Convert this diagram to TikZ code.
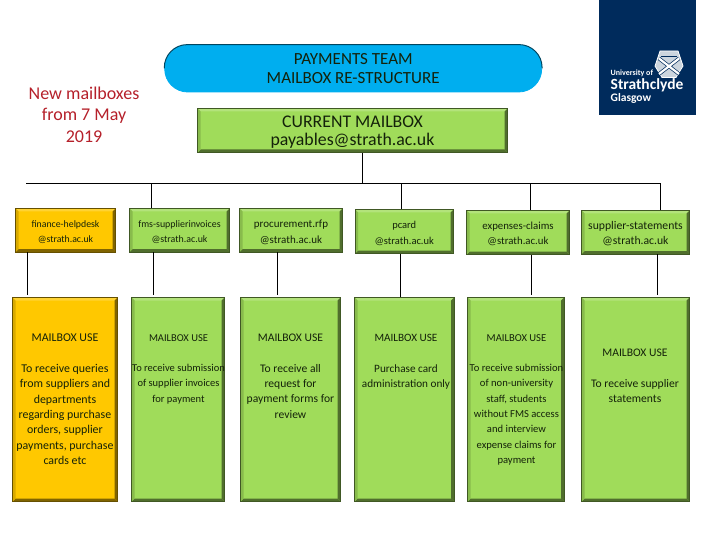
\documentclass[tikz,border=0pt]{standalone}
\usepackage{fontspec}
\setmainfont{Carlito}
\usetikzlibrary{calc}
\definecolor{boxgreen}{HTML}{A0DC5A}
\definecolor{boxamber}{HTML}{FFC800}
\definecolor{pillblue}{HTML}{00AEEF}
\definecolor{navy}{HTML}{002B5C}
\definecolor{redtxt}{HTML}{B5202A}
\definecolor{inktxt}{HTML}{14220A}
\tikzset{
  bevel/.style={draw=#1!40!black, line width=.8pt, inner sep=0pt, fill=#1,
    path picture={
      \coordinate (bl) at (path picture bounding box.south west);
      \coordinate (tr) at (path picture bounding box.north east);
      \coordinate (tl) at (path picture bounding box.north west);
      \coordinate (br) at (path picture bounding box.south east);
      \fill[#1!80!white] (tl) -- (tr) -- ($(tr)+(-3,3)$) -- ($(tl)+(3,3)$) -- cycle;
      \fill[#1!50!black] (tr) -- (br) -- ($(br)+(-3,-3)$) -- ($(tr)+(-3,3)$) -- cycle;
      \fill[#1!50!black] (bl) -- (br) -- ($(br)+(-3,-3)$) -- ($(bl)+(3,-3)$) -- cycle;
      \fill[#1!85!black] (tl) -- (bl) -- ($(bl)+(3,-3)$) -- ($(tl)+(3,3)$) -- cycle;
    }},
  fs/.style={font=\fontsize{#1}{15.3}\selectfont},
  small/.style={align=center, text=inktxt, inner sep=0pt},
  big/.style={font=\fontsize{#1}{18.5}\selectfont, align=center, text=inktxt},
  link/.style={draw=black, line width=.8pt},
  lbl/.style={small, anchor=north},
}
\newcommand{\gbox}[6]{% name, x0, y0, x1, y1, colour
  \node[bevel=#6, minimum width=#4pt-#2pt, minimum height=#5pt-#3pt] (#1) at ({(#2+#4)/2},{(#3+#5)/2}) {};}
\begin{document}
\begin{tikzpicture}[x=1pt,y=-1pt]
\useasboundingbox (0,0) rectangle (720,540);
% logo
\fill[navy] (599,0) rectangle (696,115.5);
\begin{scope}[shift={(669,67)}]
  \fill[white!80!navy, draw=white, line width=.8pt] (-9,-16) -- (9,-16) -- (14,-1) -- (7,10.5) -- (-7,10.5) -- (-14,-1) -- cycle;
  \draw[navy, line width=3.6pt] (-10,-8.5) -- (10,7) (10,-8.5) -- (-10,7);
  \draw[white, line width=2.2pt] (-10,-8.5) -- (10,7) (10,-8.5) -- (-10,7);
  \draw[navy, line width=.7pt] (-8,-10.5) -- (8,-10.5);
\end{scope}
\node[anchor=west, inner sep=0pt, text=white, font=\bfseries\fontsize{8}{9}\selectfont] (uni) at (610.5,73) {University of};
\node[anchor=west, inner sep=0pt, text=white, font=\bfseries\fontsize{15.5}{18}\selectfont] (strath) at (610.5,85.5) {Strathclyde};
\node[anchor=west, inner sep=0pt, text=white, font=\bfseries\fontsize{11.5}{12}\selectfont] (glas) at (610.5,98) {Glasgow};
% note
\node[font=\fontsize{18}{21.5}\selectfont, text=redtxt, align=center, inner sep=0pt] (note) at (84,114.5) {New mailboxes\\from 7 May\\2019};
% title
\node[draw=pillblue, line width=.8pt, fill=pillblue, rounded corners=23pt, minimum width=377pt, minimum height=47pt, inner sep=0pt, big=17] (title) at (353.2,68.5) {PAYMENTS TEAM\\MAILBOX RE-STRUCTURE};
\draw[pillblue!40!black, line width=1pt, rounded corners=23pt] (title.west) |- (title.north) -| (title.east);
% current
\gbox{current}{197.5}{108.5}{507.5}{152.5}{boxgreen}
\node[big=17.8, inner sep=0pt] (currenttxt) at ($(current.center)+(0,1.5)$) {CURRENT MAILBOX\\payables@strath.ac.uk};
% small boxes
\gbox{s1}{15.5}{208.5}{115.5}{252}{boxamber}
\gbox{s2}{129.5}{208.5}{229.5}{252}{boxgreen}
\gbox{s3}{239.5}{208.5}{342.5}{252}{boxgreen}
\gbox{s4}{355}{209.5}{453.5}{253.5}{boxgreen}
\gbox{s5}{466.5}{210.5}{569.5}{254.5}{boxgreen}
\gbox{s6}{581.5}{210.5}{689.5}{254}{boxgreen}
\node[small, fs=9.8] (s1t) at ($(s1.center)+(0,2)$) {finance-helpdesk\\@strath.ac.uk};
\node[small, fs=9.9] (s2t) at ($(s2.center)+(0,2)$) {fms-supplierinvoices\\@strath.ac.uk};
\node[small, fs=11] (s3t) at ($(s3.center)+(0,2)$) {procurement.rfp\\@strath.ac.uk};
\node[small, fs=10.5] (s4t) at ($(s4.center)+(0,2)$) {pcard\\@strath.ac.uk};
\node[small, fs=10.8] (s5t) at ($(s5.center)+(0,1.5)$) {expenses-claims\\@strath.ac.uk};
\node[small, fs=11.7] (s6t) at ($(s6.center)+(0,1.5)$) {supplier-statements\\@strath.ac.uk};
% tall boxes
\gbox{t1}{12.5}{297.5}{117.5}{501.5}{boxamber}
\gbox{t2}{131.5}{297.5}{224.5}{501.5}{boxgreen}
\gbox{t3}{240.5}{297.5}{340.5}{501.5}{boxgreen}
\gbox{t4}{354.5}{297.5}{454}{501.5}{boxgreen}
\gbox{t5}{467.5}{297.5}{564}{501.5}{boxgreen}
\gbox{t6}{581.5}{297.5}{689.5}{501.5}{boxgreen}
\node[lbl, fs=11.9] (t1t) at (65,334) {MAILBOX USE\\[15.3pt]To receive queries\\from suppliers and\\departments\\regarding purchase\\orders, supplier\\payments, purchase\\cards etc};
\node[lbl, fs=10.5] (t2t) at (178.5,334) {MAILBOX USE\\[15.3pt]To receive submission\\of supplier invoices\\for payment};
\node[lbl, fs=11.6] (t3t) at (290.5,334) {MAILBOX USE\\[15.3pt]To receive all\\request for\\payment forms for\\review};
\node[lbl, fs=11.2] (t4t) at (406,334) {MAILBOX USE\\[15.3pt]Purchase card\\administration only};
\node[lbl, fs=10.6] (t5t) at (516.5,334) {MAILBOX USE\\[15.3pt]To receive submission\\of non-university\\staff, students\\without FMS access\\and interview\\expense claims for\\payment};
\node[lbl, fs=11.6] (t6t) at (635,349) {MAILBOX USE\\[15.3pt]To receive supplier\\statements};
% connectors
\coordinate (barL) at (26,183);
\coordinate (barR) at (660.5,183);
\coordinate (barC) at (362.5,183);
\draw[link] (barL) -- (barR);
\draw[link] (current.south -| barC) -- (barC);
\draw[link] (s2.north -| 151.5,0) -- (151.5,183);
\draw[link] (s4.north -| 401.5,0) -- (401.5,183);
\draw[link] (s5.north -| 530.5,0) -- (530.5,183);
\draw[link] (s6.north -| barR) -- (barR);
\draw[link] (s1.south -| 27.5,0) -- (27.5,295);
\draw[link] (s2.south -| 153.5,0) -- (153.5,295);
\draw[link] (s3.south -| 277.5,0) -- (277.5,295);
\draw[link] (s4.south -| 400.5,0) -- (400.5,297);
\draw[link] (s5.south -| 531.5,0) -- (531.5,295);
\draw[link] (s6.south -| 657.5,0) -- (657.5,295);
\end{tikzpicture}
\end{document}
